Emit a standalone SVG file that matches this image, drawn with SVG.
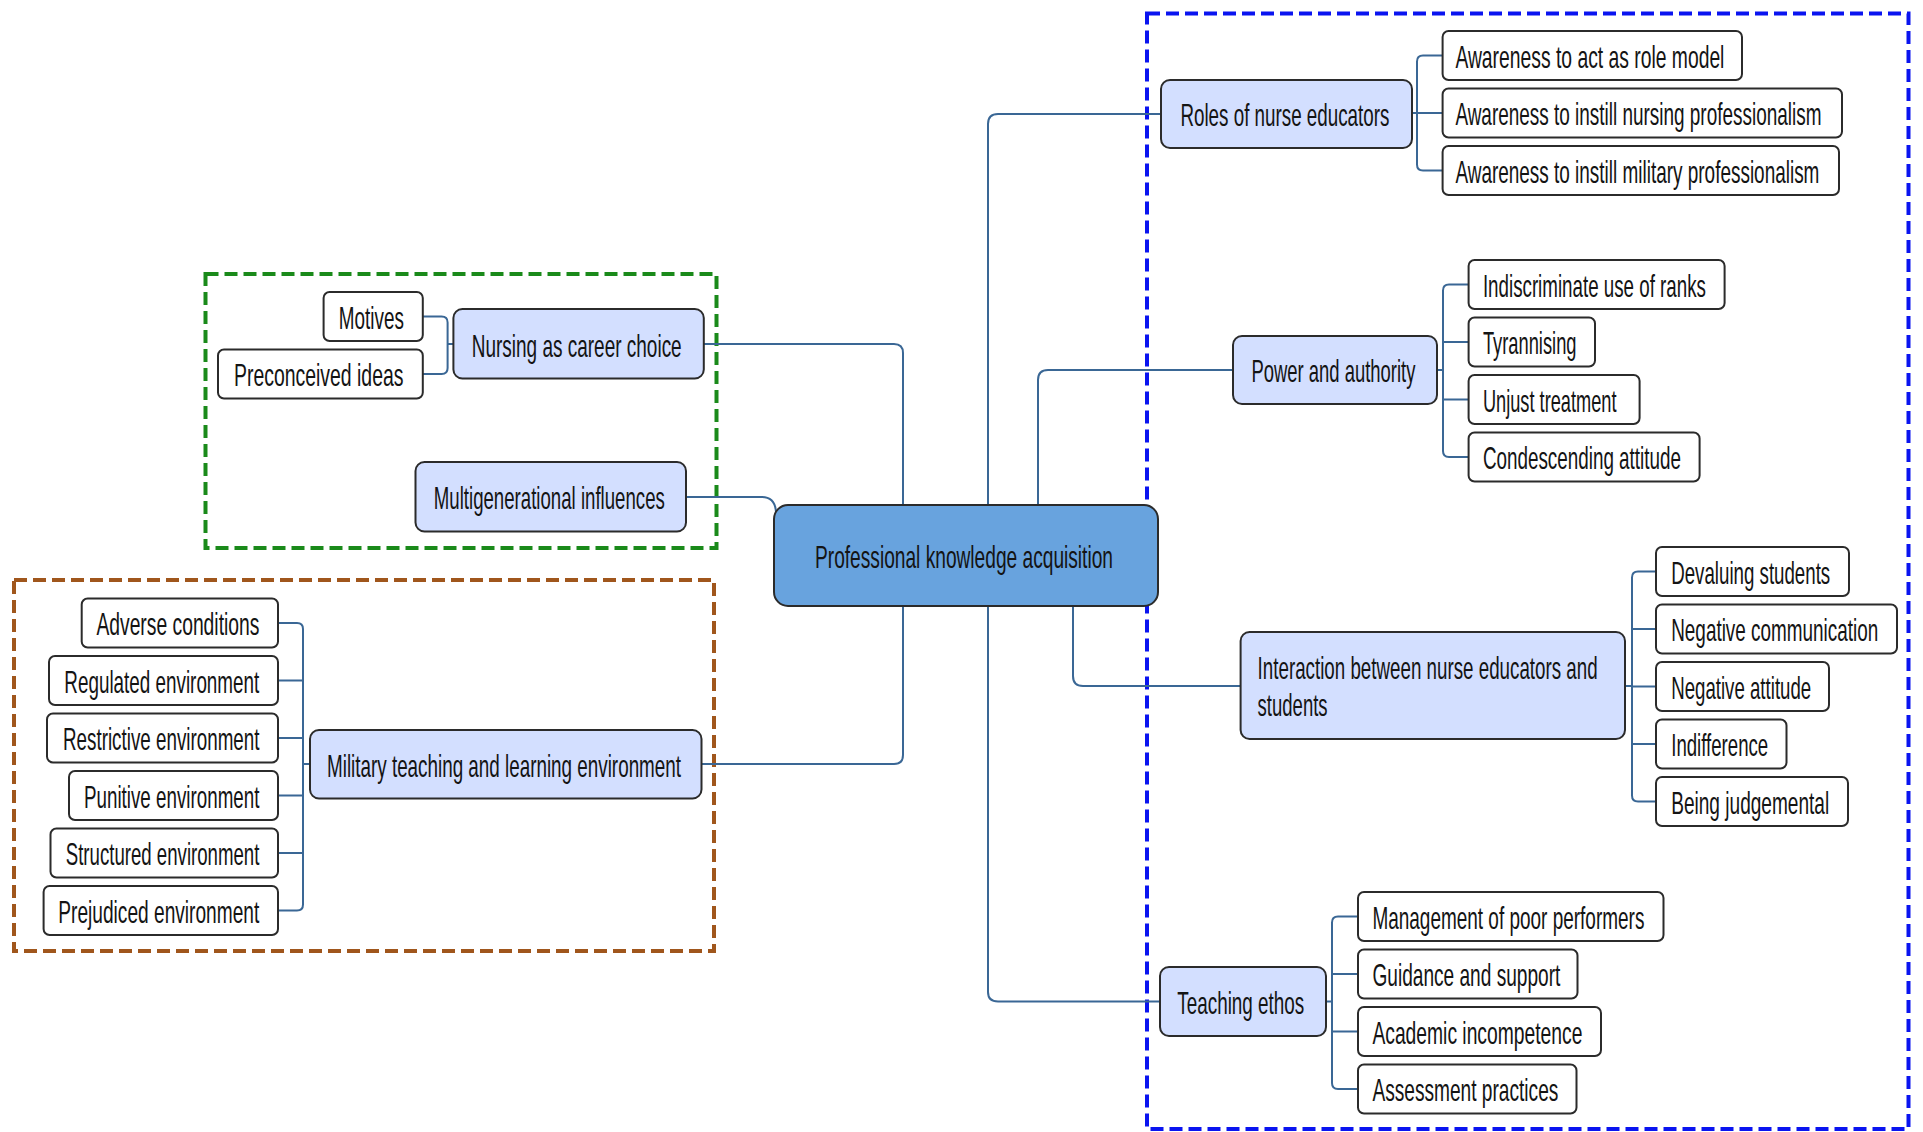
<svg xmlns="http://www.w3.org/2000/svg" width="1923" height="1132" viewBox="0 0 1923 1132">
  <style>
    .frame { fill: none; stroke-width: 4; stroke-dasharray: 13 6; }
    .leaf rect { fill: #ffffff; stroke: #2b2b2b; stroke-width: 2; }
    .topic rect { fill: #d3dfff; stroke: #2b2b2b; stroke-width: 2; }
    .root rect { fill: #68a3de; stroke: #2b2b2b; stroke-width: 2; }
    text { font-family: "Liberation Sans", Arial, sans-serif; font-size: 30.5px; fill: #141414; }
    #connectors path { fill: none; stroke: #3a6795; stroke-width: 2; }
  </style>

  <!-- group frames -->
  <rect class="frame" x="1147" y="13.5" width="761.5" height="1115.5" stroke="#0a14f0"/>
  <rect class="frame" x="205.5" y="274" width="511" height="274" stroke="#1a8a1a"/>
  <rect class="frame" x="14" y="580" width="700" height="371" stroke="#a0561c"/>

  <g id="connectors">
    <!-- root to main topics -->
    <path d="M703.8,344 H894 Q903,344 903,353 V505"/>
    <path d="M686,497 H762 Q775,497 776,512"/>
    <path d="M701.5,764 H894 Q903,764 903,755 V606"/>
    <path d="M1161,114 H998 Q988,114 988,124 V505"/>
    <path d="M1233,370 H1048 Q1038,370 1038,380 V505"/>
    <path d="M1073,606 V676 Q1073,686 1083,686 H1240"/>
    <path d="M988,606 V992 Q988,1001.5 998,1001.5 H1160"/>
    <!-- Roles of nurse educators -->
    <path d="M1412,113 H1442.6 M1442.6,55.5 H1423 Q1417,55.5 1417,61.5 V164.5 Q1417,170.5 1423,170.5 H1442.6"/>
    <!-- Power and authority -->
    <path d="M1437,370 H1443 M1468.6,284.5 H1449 Q1443,284.5 1443,290.5 V451 Q1443,457 1449,457 H1468.6 M1443,342 H1468.6 M1443,399.5 H1468.6"/>
    <!-- Interaction between nurse educators and students -->
    <path d="M1625,686 H1632 M1656,571.5 H1638 Q1632,571.5 1632,577.5 V795.5 Q1632,801.5 1638,801.5 H1656 M1632,629 H1656 M1632,686.5 H1656 M1632,744 H1656"/>
    <!-- Teaching ethos -->
    <path d="M1326,1001.5 H1332 M1358,916.5 H1338 Q1332,916.5 1332,922.5 V1083 Q1332,1089 1338,1089 H1358 M1332,974 H1358 M1332,1031.5 H1358"/>
    <!-- Nursing as career choice -->
    <path d="M453.4,344 H447.6 M422.8,316.5 H441.6 Q447.6,316.5 447.6,322.5 V368 Q447.6,374 441.6,374 H422.8"/>
    <!-- Military teaching and learning environment -->
    <path d="M310,764 H303 M278,623 H297 Q303,623 303,629 V904.5 Q303,910.5 297,910.5 H278 M303,680.5 H278 M303,738 H278 M303,795.5 H278 M303,853 H278"/>
  </g>

  <!-- labels use a condensed face: glyphs scaled to 0.63 horizontally -->
  <g id="root" class="root">
    <rect x="774" y="505" width="384" height="101" rx="14"/>
    <text transform="translate(815 568) scale(0.63 1)" textLength="473" lengthAdjust="spacingAndGlyphs">Professional knowledge acquisition</text>
  </g>

  <!-- main topics -->
  <g id="roles" class="topic">
    <rect x="1161" y="80" width="251" height="68" rx="9"/>
    <text transform="translate(1180.4 126) scale(0.63 1)" textLength="331.7" lengthAdjust="spacingAndGlyphs">Roles of nurse educators</text>
  </g>
  <g id="power" class="topic">
    <rect x="1233" y="336" width="204" height="68" rx="9"/>
    <text transform="translate(1251.4 382) scale(0.63 1)" textLength="260.3" lengthAdjust="spacingAndGlyphs">Power and authority</text>
  </g>
  <g id="interaction" class="topic">
    <rect x="1240.6" y="632" width="384.4" height="107" rx="9"/>
    <text transform="translate(1257.6 679) scale(0.63 1)" textLength="539.7" lengthAdjust="spacingAndGlyphs">Interaction between nurse educators and</text>
    <text transform="translate(1257.6 716) scale(0.63 1)" textLength="111.1" lengthAdjust="spacingAndGlyphs">students</text>
  </g>
  <g id="teaching" class="topic">
    <rect x="1160" y="967" width="166" height="69" rx="9"/>
    <text transform="translate(1177.3 1013.5) scale(0.63 1)" textLength="201.6" lengthAdjust="spacingAndGlyphs">Teaching ethos</text>
  </g>
  <g id="career" class="topic">
    <rect x="453.4" y="309" width="250.4" height="69.5" rx="9"/>
    <text transform="translate(471.7 356.5) scale(0.63 1)" textLength="333.3" lengthAdjust="spacingAndGlyphs">Nursing as career choice</text>
  </g>
  <g id="multigenerational" class="topic">
    <rect x="415.5" y="462" width="270.5" height="69.5" rx="9"/>
    <text transform="translate(433.8 509) scale(0.63 1)" textLength="366.7" lengthAdjust="spacingAndGlyphs">Multigenerational influences</text>
  </g>
  <g id="military" class="topic">
    <rect x="310" y="730" width="391.5" height="68.5" rx="9"/>
    <text transform="translate(327 776.5) scale(0.63 1)" textLength="561.9" lengthAdjust="spacingAndGlyphs">Military teaching and learning environment</text>
  </g>

  <!-- Roles of nurse educators: subthemes -->
  <g id="role-model" class="leaf">
    <rect x="1442.6" y="31" width="299.4" height="49" rx="6"/>
    <text transform="translate(1455.4 67.5) scale(0.63 1)" textLength="427" lengthAdjust="spacingAndGlyphs">Awareness to act as role model</text>
  </g>
  <g id="nursing-prof" class="leaf">
    <rect x="1442.6" y="88.5" width="399.4" height="49" rx="6"/>
    <text transform="translate(1455.4 125) scale(0.63 1)" textLength="581" lengthAdjust="spacingAndGlyphs">Awareness to instill nursing professionalism</text>
  </g>
  <g id="military-prof" class="leaf">
    <rect x="1442.6" y="146" width="396.4" height="49" rx="6"/>
    <text transform="translate(1455.4 182.5) scale(0.63 1)" textLength="577.8" lengthAdjust="spacingAndGlyphs">Awareness to instill military professionalism</text>
  </g>

  <!-- Power and authority: subthemes -->
  <g id="ranks" class="leaf">
    <rect x="1468.6" y="260" width="256" height="49" rx="6"/>
    <text transform="translate(1482.9 296.5) scale(0.63 1)" textLength="354" lengthAdjust="spacingAndGlyphs">Indiscriminate use of ranks</text>
  </g>
  <g id="tyrannising" class="leaf">
    <rect x="1468.6" y="317.5" width="126.4" height="49" rx="6"/>
    <text transform="translate(1482.9 354) scale(0.63 1)" textLength="148.6" lengthAdjust="spacingAndGlyphs">Tyrannising</text>
  </g>
  <g id="unjust" class="leaf">
    <rect x="1468.6" y="375" width="171" height="49" rx="6"/>
    <text transform="translate(1482.9 411.5) scale(0.63 1)" textLength="212.1" lengthAdjust="spacingAndGlyphs">Unjust treatment</text>
  </g>
  <g id="condescending" class="leaf">
    <rect x="1468.6" y="432.5" width="231" height="49" rx="6"/>
    <text transform="translate(1482.9 469) scale(0.63 1)" textLength="314.3" lengthAdjust="spacingAndGlyphs">Condescending attitude</text>
  </g>

  <!-- Interaction: subthemes -->
  <g id="devaluing" class="leaf">
    <rect x="1656" y="547" width="193" height="49" rx="6"/>
    <text transform="translate(1671.2 583.5) scale(0.63 1)" textLength="252.4" lengthAdjust="spacingAndGlyphs">Devaluing students</text>
  </g>
  <g id="neg-communication" class="leaf">
    <rect x="1656" y="604.5" width="241" height="49" rx="6"/>
    <text transform="translate(1671.2 641) scale(0.63 1)" textLength="328.6" lengthAdjust="spacingAndGlyphs">Negative communication</text>
  </g>
  <g id="neg-attitude" class="leaf">
    <rect x="1656" y="662" width="173" height="49" rx="6"/>
    <text transform="translate(1671.2 698.5) scale(0.63 1)" textLength="222.2" lengthAdjust="spacingAndGlyphs">Negative attitude</text>
  </g>
  <g id="indifference" class="leaf">
    <rect x="1656" y="719.5" width="130.5" height="49" rx="6"/>
    <text transform="translate(1671.2 756) scale(0.63 1)" textLength="154" lengthAdjust="spacingAndGlyphs">Indifference</text>
  </g>
  <g id="judgemental" class="leaf">
    <rect x="1656" y="777" width="192" height="49" rx="6"/>
    <text transform="translate(1671.2 813.5) scale(0.63 1)" textLength="250.8" lengthAdjust="spacingAndGlyphs">Being judgemental</text>
  </g>

  <!-- Teaching ethos: subthemes -->
  <g id="poor-performers" class="leaf">
    <rect x="1358" y="892" width="305.5" height="49" rx="6"/>
    <text transform="translate(1372.4 928.5) scale(0.63 1)" textLength="431.7" lengthAdjust="spacingAndGlyphs">Management of poor performers</text>
  </g>
  <g id="guidance" class="leaf">
    <rect x="1358" y="949.5" width="219.5" height="49" rx="6"/>
    <text transform="translate(1372.4 986) scale(0.63 1)" textLength="298.4" lengthAdjust="spacingAndGlyphs">Guidance and support</text>
  </g>
  <g id="incompetence" class="leaf">
    <rect x="1358" y="1007" width="243" height="49" rx="6"/>
    <text transform="translate(1372.4 1043.5) scale(0.63 1)" textLength="333.3" lengthAdjust="spacingAndGlyphs">Academic incompetence</text>
  </g>
  <g id="assessment" class="leaf">
    <rect x="1358" y="1064.5" width="218.5" height="49" rx="6"/>
    <text transform="translate(1372.4 1101) scale(0.63 1)" textLength="295.2" lengthAdjust="spacingAndGlyphs">Assessment practices</text>
  </g>

  <!-- Nursing as career choice: subthemes -->
  <g id="motives" class="leaf">
    <rect x="323.6" y="292" width="99.2" height="49" rx="6"/>
    <text transform="translate(338.8 328.5) scale(0.63 1)" textLength="103.2" lengthAdjust="spacingAndGlyphs">Motives</text>
  </g>
  <g id="preconceived" class="leaf">
    <rect x="218" y="349.5" width="204.8" height="49" rx="6"/>
    <text transform="translate(234 386) scale(0.63 1)" textLength="269" lengthAdjust="spacingAndGlyphs">Preconceived ideas</text>
  </g>

  <!-- Military teaching and learning environment: subthemes -->
  <g id="adverse" class="leaf">
    <rect x="81.7" y="598.5" width="196.3" height="49" rx="6"/>
    <text transform="translate(96.4 635) scale(0.63 1)" textLength="258.7" lengthAdjust="spacingAndGlyphs">Adverse conditions</text>
  </g>
  <g id="regulated" class="leaf">
    <rect x="49" y="656" width="229" height="49" rx="6"/>
    <text transform="translate(64.3 692.5) scale(0.63 1)" textLength="309.5" lengthAdjust="spacingAndGlyphs">Regulated environment</text>
  </g>
  <g id="restrictive" class="leaf">
    <rect x="47" y="713.5" width="231" height="49" rx="6"/>
    <text transform="translate(63 750) scale(0.63 1)" textLength="311.9" lengthAdjust="spacingAndGlyphs">Restrictive environment</text>
  </g>
  <g id="punitive" class="leaf">
    <rect x="69" y="771" width="209" height="49" rx="6"/>
    <text transform="translate(84 807.5) scale(0.63 1)" textLength="278.4" lengthAdjust="spacingAndGlyphs">Punitive environment</text>
  </g>
  <g id="structured" class="leaf">
    <rect x="50.5" y="828.5" width="227.5" height="49" rx="6"/>
    <text transform="translate(65.7 865) scale(0.63 1)" textLength="307.5" lengthAdjust="spacingAndGlyphs">Structured environment</text>
  </g>
  <g id="prejudiced" class="leaf">
    <rect x="43.6" y="886" width="234.4" height="49" rx="6"/>
    <text transform="translate(58.3 922.5) scale(0.63 1)" textLength="319" lengthAdjust="spacingAndGlyphs">Prejudiced environment</text>
  </g>
</svg>
